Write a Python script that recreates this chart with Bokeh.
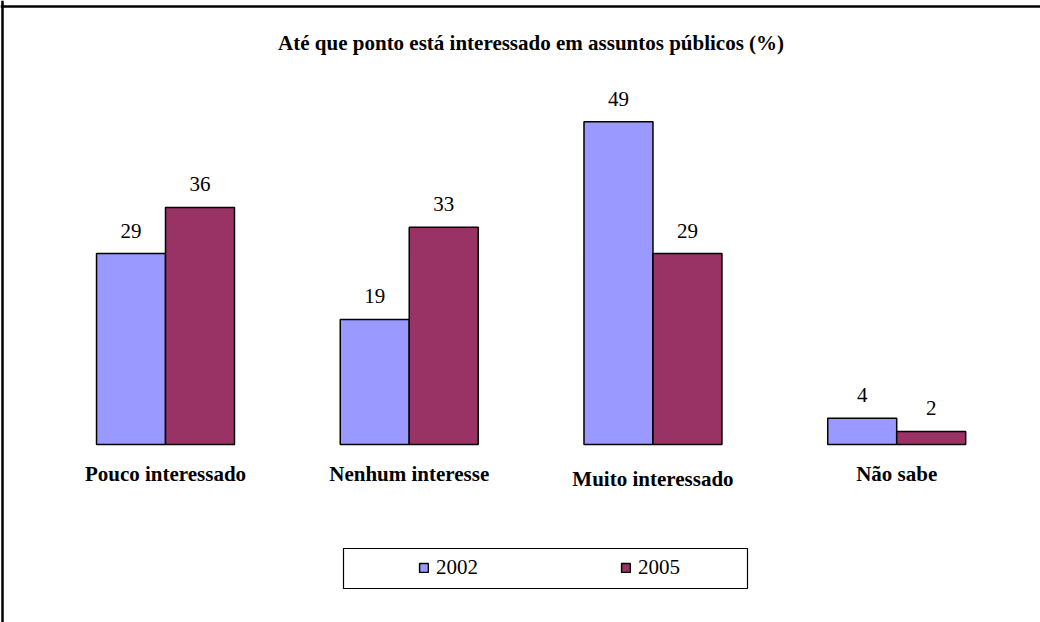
from bokeh.plotting import figure
from bokeh.models import Range1d, ColumnDataSource, Legend, LegendItem, Span
from bokeh.core.properties import value
from bokeh.embed import file_html
from bokeh.resources import INLINE

# ---- data ----
categories = ["Pouco interessado", "Nenhum interesse", "Muito interessado", "Não sabe"]
series_names = ["2002", "2005"]
values_2002 = [29, 19, 49, 4]
values_2005 = [36, 33, 29, 2]
title_text = "Até que ponto está interessado em assuntos públicos (%)"

colors = {"2002": "#9999FF", "2005": "#993366"}

W, H = 1040, 622
x0, x1 = -0.177, 4.09
y0, y1 = -27.0, 67.4
pxx = W / (x1 - x0)
pxy = H / (y1 - y0)

def px2x(px):
    return x0 + px / pxx

def px2y(py):
    return y1 - py / pxy

p = figure(width=W, height=H, output_backend="svg", toolbar_location=None,
           x_range=Range1d(x0, x1), y_range=Range1d(y0, y1),
           min_border=0, min_border_left=0, min_border_right=0,
           min_border_top=0, min_border_bottom=0)
p.axis.visible = False
p.grid.visible = False
p.outline_line_color = None
p.background_fill_color = "white"
p.border_fill_color = "white"

bw = 0.283
centers = [i + 0.5 for i in range(len(categories))]
src = ColumnDataSource(dict(
    cat=categories,
    x02=[c - bw / 2 for c in centers],
    x05=[c + bw / 2 for c in centers],
    v02=values_2002,
    v05=values_2005,
    l02=[str(v) for v in values_2002],
    l05=[str(v) for v in values_2005],
    xc=centers,
))

r02 = p.vbar(x="x02", top="v02", bottom=0, width=bw, source=src,
             fill_color=colors["2002"], line_color="black", line_width=1.5)
r05 = p.vbar(x="x05", top="v05", bottom=0, width=bw, source=src,
             fill_color=colors["2005"], line_color="black", line_width=1.5)

FONT = "Liberation Serif"
lab_font = value(FONT)
p.text(x="x02", y="v02", text="l02", source=src, text_font=lab_font,
       text_font_size="21px", text_align="center", text_baseline="alphabetic",
       y_offset=-23, text_color="black")
p.text(x="x05", y="v05", text="l05", source=src, text_font=lab_font,
       text_font_size="21px", text_align="center", text_baseline="alphabetic",
       y_offset=-23, text_color="black")

# category labels
for i, c in enumerate(categories):
    off = 34 if i == 2 else 29
    p.text(x=[centers[i]], y=[0], text=[c], text_font=lab_font,
           text_font_size="21px", text_font_style="bold",
           text_align="center", text_baseline="middle", y_offset=off,
           text_color="black")

# title
p.text(x=[sum(centers) / len(centers)], y=[px2y(42)], text=[title_text],
       text_font=lab_font, text_font_size="21px", text_font_style="bold",
       text_align="center", text_baseline="middle", text_color="black")

# outer border (top + left)
p.add_layout(Span(location=px2y(6), dimension="width", line_color="black", line_width=2.5))
p.add_layout(Span(location=px2x(2), dimension="height", line_color="black", line_width=2.5))

# legend box
p.quad(left=[px2x(343)], right=[px2x(747)], top=[px2y(548)], bottom=[px2y(588)],
       fill_color="white", line_color="black", line_width=1.2)

legend = Legend(items=[LegendItem(label=series_names[0], renderers=[r02]),
                       LegendItem(label=series_names[1], renderers=[r05])],
                orientation="horizontal", location=(418, 42),
                glyph_width=11, glyph_height=11, label_standoff=7, spacing=142,
                padding=0, margin=0, border_line_color=None,
                background_fill_alpha=0,
                label_text_font=FONT, label_text_font_size="21px",
                label_text_color="black")
p.add_layout(legend)

open("out.html", "w").write(file_html(p, INLINE))
